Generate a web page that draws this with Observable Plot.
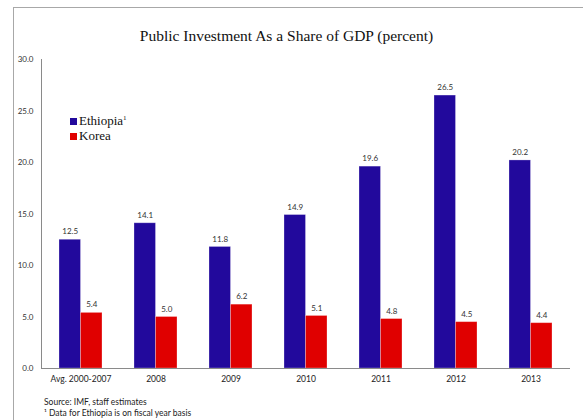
<!DOCTYPE html>
<html lang="en">
<head>
    <meta charset="UTF-8">
    <title>Public Investment</title>
    <script src="https://cdn.jsdelivr.net/npm/d3@7"></script>
    <script src="https://cdn.jsdelivr.net/npm/@observablehq/plot@0.6"></script>
    <style>
        body { margin: 0; background: #fff; }
        #chart {
            position: relative;
            width: 583px;
            height: 420px;
            overflow: hidden;
        }
        /* cadre gris en haut et a gauche */
        #cadre {
            position: absolute;
            left: 13px;
            top: 7px;
            width: 600px;
            height: 430px;
            border-left: 1px solid #a8a8a8;
            border-top: 1px solid #a8a8a8;
        }
        #titre {
            position: absolute;
            left: 0;
            width: 573px;
            top: 27px;
            text-align: center;
            font-family: "Liberation Serif", serif;
            font-size: 15.5px;
            color: #111;
        }
        #legende {
            position: absolute;
            left: 70px;
            top: 110px;
            font-family: "Liberation Serif", serif;
            font-size: 13px;
            color: #111;
        }
        #legende div { height: 18px; line-height: 16px; }
        #legende span.carre {
            display: inline-block;
            width: 7px;
            height: 7px;
            margin-right: 2px;
        }
        #notes {
            position: absolute;
            left: 44px;
            top: 397px;
            font-family: Lato, sans-serif;
            font-size: 8.5px;
            line-height: 10.5px;
            color: #222;
        }
        #myplot { position: absolute; left: 0; top: 0; }
    </style>
</head>
<body>
<div id="chart">
    <div id="cadre"></div>
    <div id="myplot"></div>
    <div id="titre">Public Investment As a Share of GDP (percent)</div>
    <div id="legende"></div>
    <div id="notes">
        <div>Source: IMF, staff estimates</div>
        <div>¹ Data for Ethiopia is on fiscal year basis</div>
    </div>
</div>
<script>
    // donnees
    const categories = ["Avg. 2000-2007", "2008", "2009", "2010", "2011", "2012", "2013"];
    const ethiopia = [12.5, 14.1, 11.8, 14.9, 19.6, 26.5, 20.2];
    const korea = [5.4, 5.0, 6.2, 5.1, 4.8, 4.5, 4.4];
    const series = ["Ethiopia", "Korea"];
    const seriesLabels = ["Ethiopia¹", "Korea"];
    const couleurs = ["#22099c", "#e00000"];
    const yTicks = [0, 5, 10, 15, 20, 25, 30];

    const lignes = categories.flatMap((c, i) => [
        {cat: c, serie: "Ethiopia", valeur: ethiopia[i]},
        {cat: c, serie: "Korea", valeur: korea[i]}
    ]);
    const eth = lignes.filter(d => d.serie === "Ethiopia");
    const kor = lignes.filter(d => d.serie === "Korea");

    const demi = 21.5; // moitie de la largeur du groupe de barres

    const plot = Plot.plot({
        width: 583,
        height: 420,
        marginTop: 59,
        marginBottom: 52,
        marginLeft: 41,
        marginRight: 13,
        style: {background: "transparent", overflow: "visible"},
        x: {domain: categories, paddingInner: 0.43, paddingOuter: 0.215},
        y: {domain: [0, 30]},
        color: {domain: series, range: couleurs},
        marks: [
            Plot.barY(eth, {x: "cat", y: "valeur", fill: "serie", insetRight: demi,
                stroke: "#fff", strokeOpacity: 0.35, strokeWidth: 0.8}),
            Plot.barY(kor, {x: "cat", y: "valeur", fill: "serie", insetLeft: demi,
                stroke: "#fff", strokeOpacity: 0.35, strokeWidth: 0.8}),
            Plot.text(eth, {x: "cat", y: "valeur", text: d => d.valeur.toFixed(1), dx: -demi / 2, dy: -8,
                fontSize: 8, fill: "#333", fontFamily: "Lato, sans-serif"}),
            Plot.text(kor, {x: "cat", y: "valeur", text: d => d.valeur.toFixed(1), dx: demi / 2, dy: -8,
                fontSize: 8, fill: "#333", fontFamily: "Lato, sans-serif"}),
            Plot.frame({anchor: "left", stroke: "#8a8a8a"}),
            Plot.ruleY([0], {stroke: "#8a8a8a"}),
            Plot.axisY({ticks: yTicks, tickFormat: d => d.toFixed(1), tickSize: 0, tickPadding: 8,
                fontSize: 8, fill: "#333", fontFamily: "Lato, sans-serif", label: null}),
            Plot.axisX({tickSize: 0, tickPadding: 7, fontSize: 8.5, fill: "#222",
                fontFamily: "Lato, sans-serif", label: null})
        ]
    });
    document.querySelector("#myplot").append(plot);

    // legende a la main
    const leg = document.querySelector("#legende");
    series.forEach((s, i) => {
        const ligne = document.createElement("div");
        ligne.innerHTML = `<span class="carre" style="background:${couleurs[i]}"></span>${seriesLabels[i].replace("¹", "<sup style='font-size:7px'>1</sup>")}`;
        leg.append(ligne);
    });
</script>
</body>
</html>
